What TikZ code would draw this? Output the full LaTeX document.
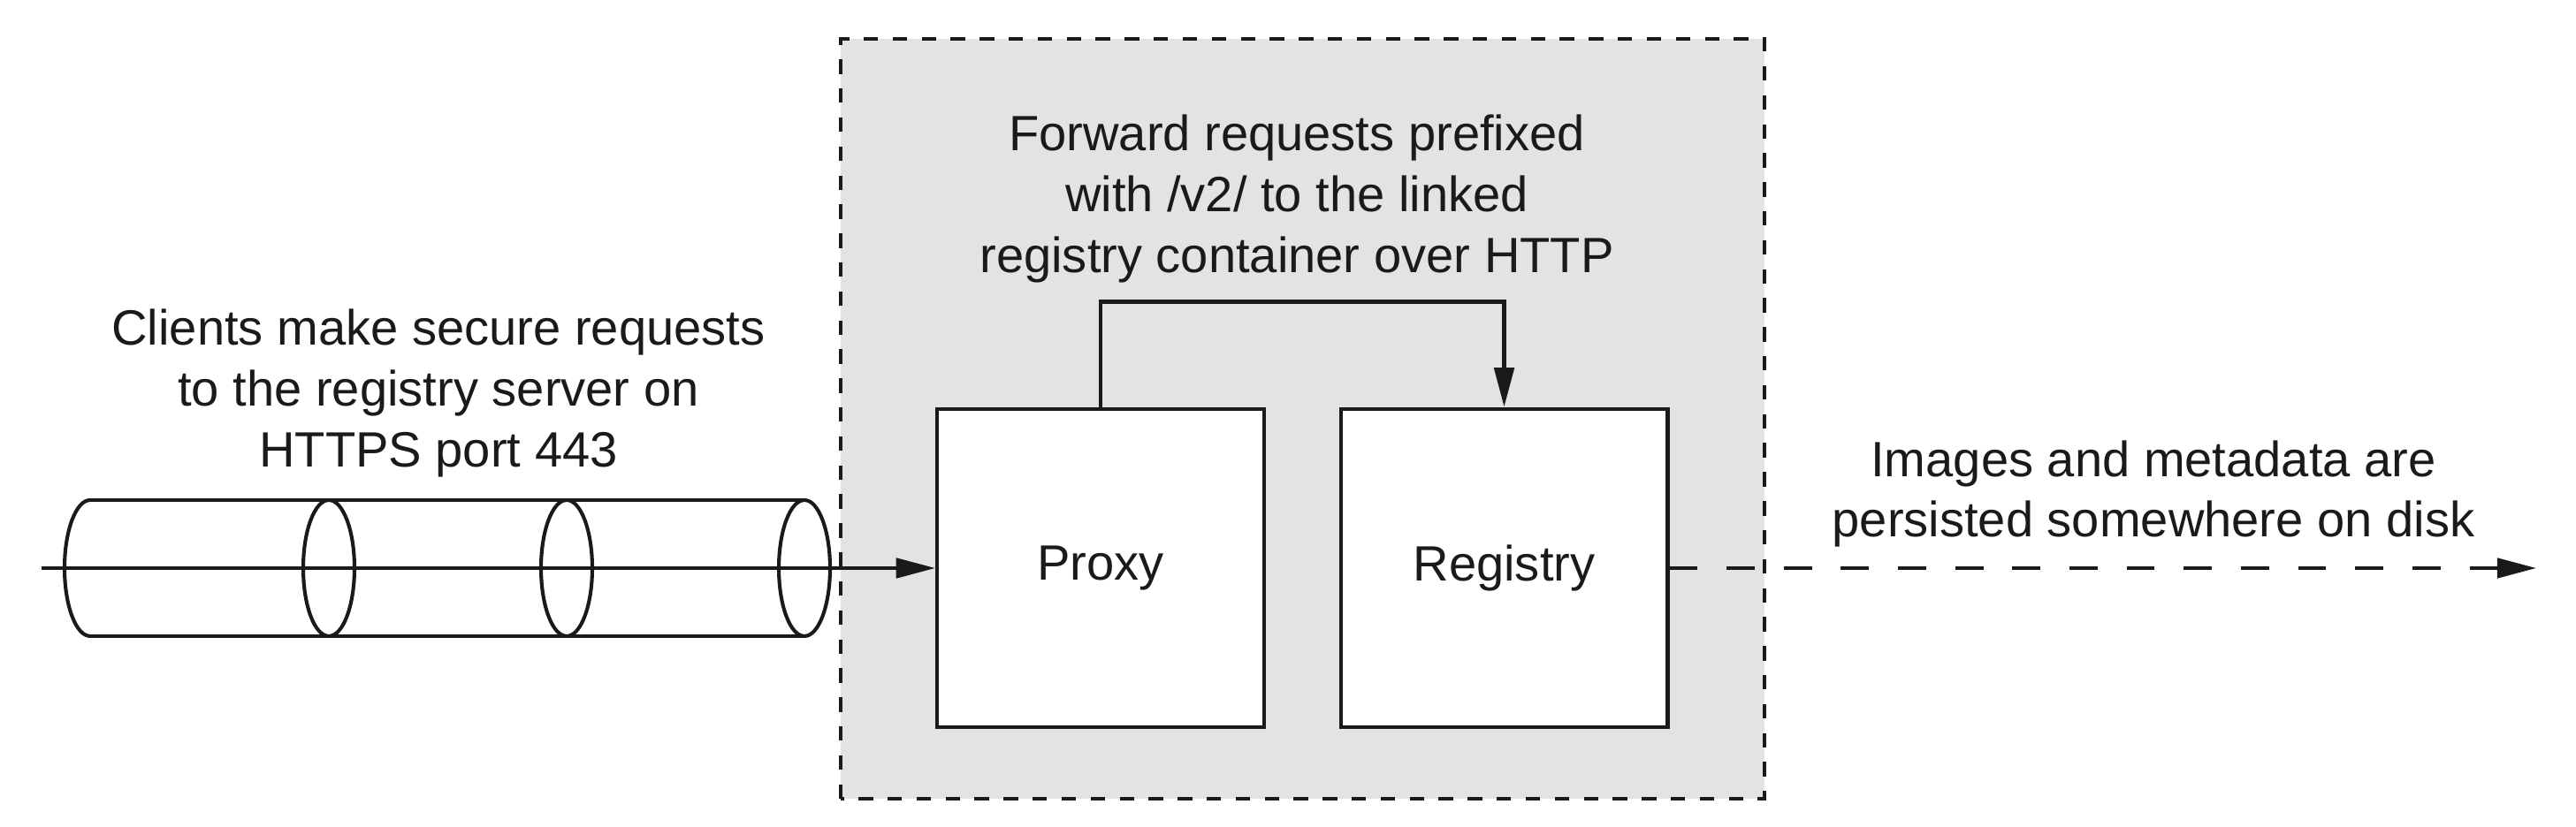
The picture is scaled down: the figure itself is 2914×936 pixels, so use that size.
\documentclass[tikz,border=0pt]{standalone}
\usepackage{fontspec}
\setmainfont{Liberation Sans}
\usetikzlibrary{arrows.meta}
\definecolor{boxgray}{RGB}{227,227,227}
\definecolor{ink}{RGB}{26,26,26}

\begin{document}
\begin{tikzpicture}[x=0.010707cm, y=0.010707cm, line width=1.25pt, color=ink,
  >={Triangle[length=13.5pt,width=6.8pt]},
  font=\fontsize{17.1}{21}\selectfont,
  note/.style={align=center},
  comp/.style={draw, fill=white, minimum width=3.962cm, minimum height=3.865cm}]
  \useasboundingbox (0,0) rectangle (2914,936);
  % Hintergrund (Container-Bereich)
  \draw[fill=boxgray, line width=1.3pt, dash pattern=on 5pt off 5pt] (951,32) rectangle (1996,892);
  % Komponenten
  \node[comp] (proxy) at (1245,293) {Proxy};
  \node[comp] (registry) at (1701.5,293) {Registry};
  % Beschriftungen
  \node[note] (clients) at (496,491) {Clients make secure requests\\to the registry server on\\HTTPS port 443};
  \node[note] (forward) at (1467,711) {Forward requests prefixed\\with /v2/ to the linked\\registry container over HTTP};
  \node[note] (disk) at (2436,377) {Images and metadata are\\persisted somewhere on disk};
  % Zylinder (TLS-Tunnel)
  \def\rx{0.3105cm}
  \def\ry{0.8245cm}
  \draw (102,370) -- (910,370) (102,216) -- (910,216);
  \draw (102,370) arc[start angle=90, end angle=270, x radius=\rx, y radius=\ry];
  \foreach \x in {372,641,910} {
    \draw (\x,293) ellipse [x radius=\rx, y radius=\ry];
  }
  % Verbindungen
  \coordinate (start) at (47,293);
  \coordinate (ziel) at (2869,293);
  \draw[->] (start) -- (proxy.west);
  \draw[->] (proxy.north) -- ++(0,119) -| (registry.north);
  \draw[->, dash pattern=on 9.7pt off 10pt] (registry.east) -- (ziel);
\end{tikzpicture}
\end{document}
